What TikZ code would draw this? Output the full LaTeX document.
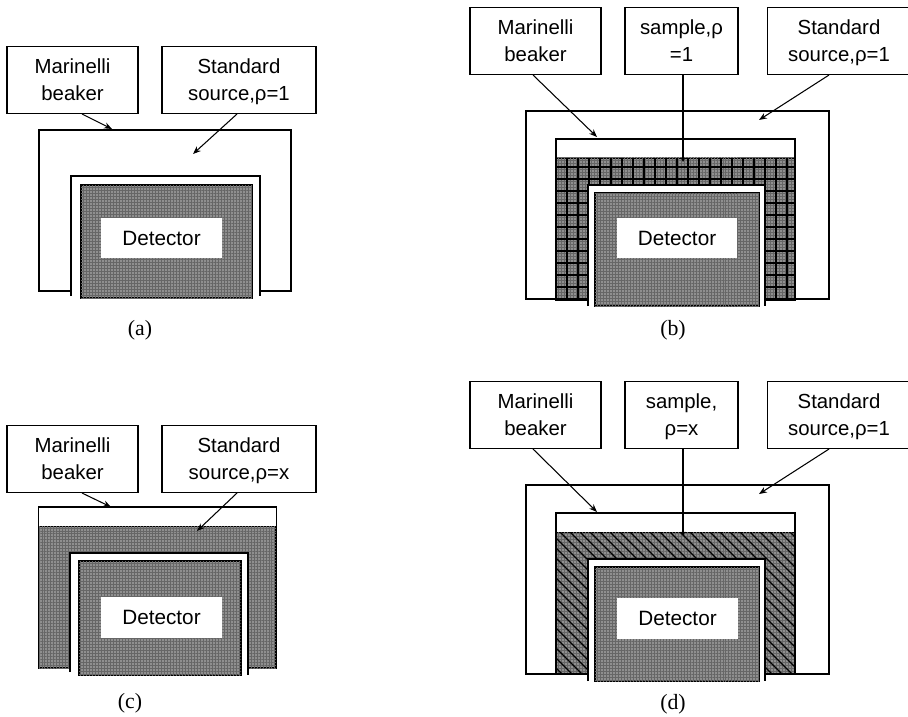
\documentclass[tikz,border=0pt]{standalone}
\usepackage{fontspec}
\setmainfont{Liberation Sans}
\newfontfamily\capfont{Liberation Serif}
\usetikzlibrary{arrows.meta,positioning,calc,patterns.meta}
\tikzset{
  labelbox/.style={draw,line width=0.6pt,fill=white,align=center,inner sep=1pt,minimum height=1.34cm,text depth=-1.5pt,
    font=\fontsize{11.6}{15.3}\selectfont},
  detlabel/.style={fill=white,inner sep=0pt,minimum height=0.82cm,font=\fontsize{11.8}{14}\selectfont},
  caplabel/.style={font=\capfont\fontsize{12.4}{14}\selectfont},
  beaker/.style={draw,line width=0.7pt,fill=white},
  cavity/.style={line width=0.6pt},
  dither/.style={fill=black!44,
    postaction={pattern={Lines[angle=0,distance=1.7pt,line width=0.35pt]},pattern color=black!60},
    postaction={pattern={Lines[angle=90,distance=1.7pt,line width=0.35pt]},pattern color=black!60}},
  callout/.style={line width=0.6pt,-{Stealth[length=4.5pt,width=3.5pt]}},
  sampleline/.style={line width=0.6pt,-{Stealth[length=2.5pt,width=2.5pt]}}
}
\begin{document}
\begin{tikzpicture}[x=0.02cm,y=-0.02cm]
  \useasboundingbox (0,0) rectangle (908,716);
  % (a) standard source, rho = 1
  \draw[beaker] (71,291)--(39,291)--(39,130)--(291,130)--(291,291)--(260,291)--(260,176)--(71,176)--cycle;
  \fill[white] (71,177) rectangle (260,298);
  \draw[cavity] (71,296)--(71,176)--(260,176)--(260,296);
  \draw[dither,draw=black,line width=1.2pt] (81,185) rectangle (252,298);
  \node[detlabel,minimum width=2.42cm] (deta) at (161.5,238) {Detector};
  \node[labelbox,minimum width=2.62cm] (mara) at (72.5,80) {Marinelli\\beaker};
  \node[labelbox,minimum width=3.08cm] (stda) at (239,80) {Standard\\source,ρ=1};
  \coordinate (beakera) at (112,129);
  \coordinate (sourcea) at (193,154);
  \draw[callout] ($(mara.south)+(9.5,0)$) -- (beakera);
  \draw[callout] ($(stda.south)+(-2,0)$) -- (sourcea);
  \node[caplabel] (capa) at (140,330) {(a)};

  % (b) sample, rho = 1
  \draw[beaker] (526,111) rectangle (829,299);
  \draw[dither] (556,158) rectangle (795,300);
  \begin{scope}
    \clip (556,158) rectangle (795,300);
    \foreach \gx in {567,578,...,790} \draw[line width=1pt] (\gx,158)--(\gx,300);
    \foreach \gy in {167,179,...,300} \draw[line width=1pt] (556,\gy)--(795,\gy);
  \end{scope}
  \draw[line width=0.9pt] (556,158)--(556,139)--(795,139)--(795,158);
  \draw[line width=0.9pt] (556,158)--(556,300)--(795,300)--(795,158);
  \fill[white] (588,185) rectangle (765,306);
  \draw[cavity] (588,306)--(588,185)--(765,185)--(765,306);
  \draw[dither,draw=black,line width=1.2pt] (595,193) rectangle (759,306);
  \node[detlabel,minimum width=2.40cm] (detb) at (677,238) {Detector};
  \node[labelbox,minimum width=2.62cm] (marb) at (535.5,41) {Marinelli\\beaker};
  \node[labelbox,minimum width=2.26cm] (samb) at (681.5,41) {sample,ρ\\=1};
  \node[labelbox,minimum width=2.86cm] (stdb) at (839,41) {Standard\\source,ρ=1};
  \coordinate (beakerb) at (597,137);
  \coordinate (sampleb) at (683,162);
  \coordinate (sourceb) at (759,120);
  \draw[callout] ($(marb.south)+(-2.5,0)$) -- (beakerb);
  \draw[sampleline] ($(samb.south)+(1.5,0)$) -- (sampleb);
  \draw[callout] ($(stdb.south)+(-10,0)$) -- (sourceb);
  \node[caplabel] (capb) at (673,330) {(b)};

  % (c) standard source, rho = x
  \draw[dither,draw=black,line width=0.7pt] (39,526) rectangle (276,668);
  \draw[line width=0.9pt,fill=white] (39,526)--(39,507)--(276,507)--(276,526);
  \fill[white] (39,508) rectangle (276,526);
  \fill[white] (70,553) rectangle (248,675);
  \draw[cavity] (70,672)--(70,553)--(248,553)--(248,675);
  \draw[dither,draw=black,line width=1.2pt] (79,561) rectangle (241,675);
  \node[detlabel,minimum width=2.42cm] (detc) at (161.5,617.5) {Detector};
  \node[labelbox,minimum width=2.62cm] (marc) at (72.5,459) {Marinelli\\beaker};
  \node[labelbox,minimum width=3.08cm] (stdc) at (239,459) {Standard\\source,ρ=x};
  \coordinate (beakerc) at (111,507);
  \coordinate (sourcec) at (197,531);
  \draw[callout] ($(marc.south)+(9.5,0)$) -- (beakerc);
  \draw[callout] ($(stdc.south)+(-2,0)$) -- (sourcec);
  \node[caplabel] (capc) at (130,703) {(c)};

  % (d) sample, rho = x
  \draw[beaker] (526,485) rectangle (829,674);
  \draw[dither] (556,532) rectangle (795,674);
  \begin{scope}
    \clip (556,532) rectangle (795,674);
    \foreach \hx in {410,420,...,800} \draw[line width=0.7pt] (\hx,532)--(\hx+142,674);
  \end{scope}
  \draw[line width=0.9pt] (556,532)--(556,513)--(795,513)--(795,532);
  \draw[line width=0.9pt] (556,532)--(556,674)--(795,674)--(795,532);
  \fill[white] (588,559) rectangle (765,681);
  \draw[cavity] (588,681)--(588,559)--(765,559)--(765,681);
  \draw[dither,draw=black,line width=1.2pt] (595,567) rectangle (759,681);
  \node[detlabel,minimum width=2.42cm] (detd) at (677.5,618) {Detector};
  \node[labelbox,minimum width=2.62cm] (mard) at (535.5,415) {Marinelli\\beaker};
  \node[labelbox,minimum width=2.26cm] (samd) at (681.5,415) {sample,\\ρ=x};
  \node[labelbox,minimum width=2.86cm] (stdd) at (839,415) {Standard\\source,ρ=1};
  \coordinate (beakerd) at (597,512);
  \coordinate (sampled) at (683,536);
  \coordinate (sourced) at (759,494);
  \draw[callout] ($(mard.south)+(-2.5,0)$) -- (beakerd);
  \draw[sampleline] ($(samd.south)+(1.5,0)$) -- (sampled);
  \draw[callout] ($(stdd.south)+(-10,0)$) -- (sourced);
  \node[caplabel] (capd) at (673,704) {(d)};
\end{tikzpicture}
\end{document}
